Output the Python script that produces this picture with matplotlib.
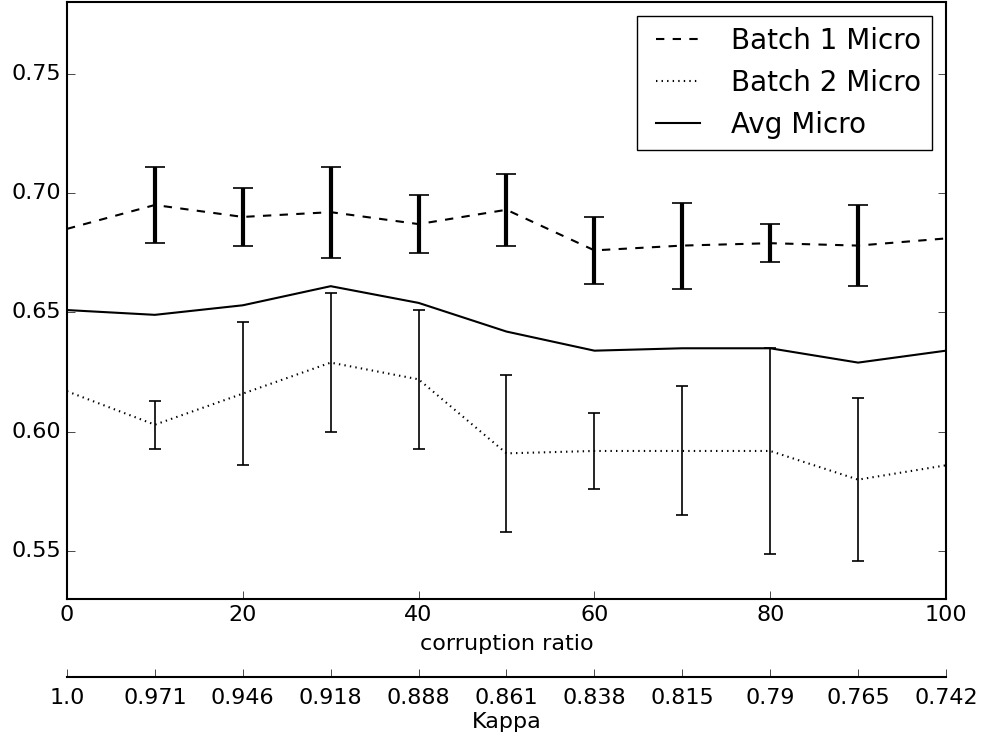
import numpy as np
import matplotlib
matplotlib.use('Agg')
import matplotlib.pyplot as plt

# corruption ratio (%) and corresponding kappa values
ratio = [0, 10, 20, 30, 40, 50, 60, 70, 80, 90, 100]
kappa = ['1.0', '0.971', '0.946', '0.918', '0.888', '0.861',
         '0.838', '0.815', '0.79', '0.765', '0.742']

batch1 = [0.685, 0.695, 0.690, 0.692, 0.687, 0.693, 0.676, 0.678, 0.679, 0.678, 0.681]
batch1_err = [0.0, 0.016, 0.012, 0.019, 0.012, 0.015, 0.014, 0.018, 0.008, 0.017, 0.0]

batch2 = [0.617, 0.603, 0.616, 0.629, 0.622, 0.591, 0.592, 0.592, 0.592, 0.580, 0.586]
batch2_err = [0.0, 0.010, 0.030, 0.029, 0.029, 0.033, 0.016, 0.027, 0.043, 0.034, 0.0]

avg = [0.651, 0.649, 0.653, 0.661, 0.654, 0.642, 0.634, 0.635, 0.635, 0.629, 0.634]


def main():
    plt.style.use('classic')
    plt.rcParams['xtick.major.size'] = 6
    plt.rcParams['ytick.major.size'] = 6
    plt.rcParams['font.size'] = 16
    plt.rcParams['axes.linewidth'] = 1.5

    fig = plt.figure(figsize=(9.85, 7.4), dpi=100, facecolor='white')
    ax = fig.add_axes([0.068, 0.1905, 0.8924, 0.8068])

    ax.plot(ratio, batch1, 'k--', lw=1.5, label='Batch 1 Micro')
    ax.plot(ratio, batch2, 'k:', lw=1.5, label='Batch 2 Micro')
    ax.plot(ratio, avg, 'k-', lw=1.5, label='Avg Micro')

    # error bars only where the spread is known
    i = slice(1, 10)
    ax.errorbar(ratio[i], batch1[i], yerr=batch1_err[i], fmt='none', ecolor='k',
                elinewidth=3, capsize=7, capthick=1.2)
    ax.errorbar(ratio[i], batch2[i], yerr=batch2_err[i], fmt='none', ecolor='k',
                elinewidth=1.2, capsize=4, capthick=1.2)

    ax.set_xlim(0, 100)
    ax.set_ylim(0.53, 0.78)
    ax.set_yticks([0.55, 0.60, 0.65, 0.70, 0.75])
    ax.set_xlabel('corruption ratio', labelpad=7)
    ax.legend(loc='upper right', fontsize=20, handlelength=2.2, borderaxespad=0.5)

    ax2 = ax.twiny()
    ax2.set_xlim(0, 100)
    ax2.set_xticks(ratio)
    ax2.set_xticklabels(kappa)
    ax2.xaxis.set_ticks_position('bottom')
    ax2.xaxis.set_label_position('bottom')
    ax2.tick_params(axis='x', pad=8)
    ax2.spines['bottom'].set_position(('outward', 56))
    for s in ['top', 'left', 'right']:
        ax2.spines[s].set_visible(False)
    ax2.set_xlabel('Kappa', labelpad=3)

    fig.savefig('out.png', dpi=100, facecolor='white')


if __name__ == "__main__":
    main()
